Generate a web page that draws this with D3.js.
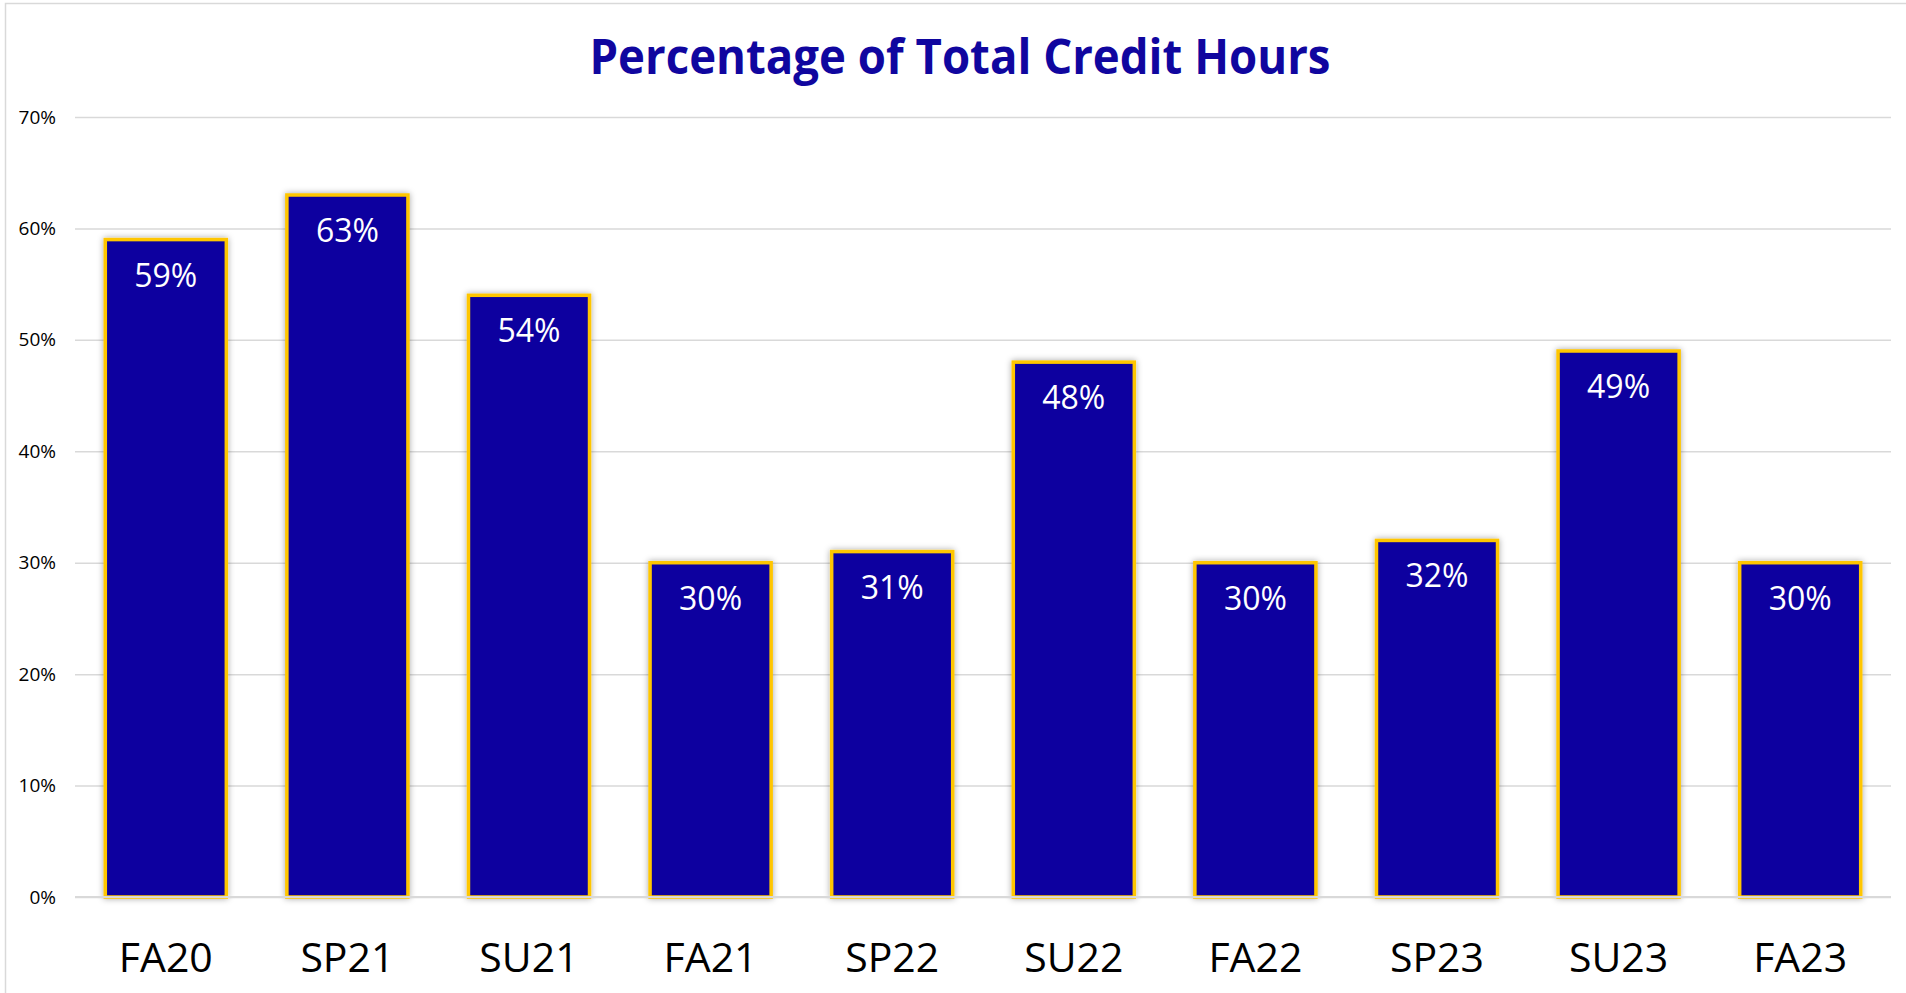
<!DOCTYPE html>
<html>
<head>
<meta charset="utf-8">
<script src="https://cdn.jsdelivr.net/npm/d3@7"></script>
<style>
  html, body { margin: 0; padding: 0; background: #fff; }
  svg { display: block; }
</style>
</head>
<body>
<svg id="chart"></svg>
<script>
// Data
const terms = ["FA20", "SP21", "SU21", "FA21", "SP22", "SU22", "FA22", "SP23", "SU23", "FA23"];
const shares = [59, 63, 54, 30, 31, 48, 30, 32, 49, 30];
const yTicks = [0, 10, 20, 30, 40, 50, 60, 70];

const W = 1906, H = 993;
const margin = { top: 117, right: 15, bottom: 96, left: 75 };

const svg = d3.select("#chart")
  .attr("width", W)
  .attr("height", H);

//Chart border
svg.append("rect")
  .attr("x", 5.5).attr("y", 3.5)
  .attr("width", W + 10).attr("height", H + 10)
  .attr("fill", "#fff")
  .attr("stroke", "#d9d9d9")
  .attr("stroke-width", 1.5);

//Bar shadow
const defs = svg.append("defs");
const shadow = defs.append("filter")
  .attr("id", "barShadow")
  .attr("x", "-20%").attr("y", "-5%")
  .attr("width", "140%").attr("height", "110%");
shadow.append("feDropShadow")
  .attr("dx", 0).attr("dy", 0)
  .attr("stdDeviation", 3)
  .attr("flood-color", "#000")
  .attr("flood-opacity", 0.35);

const x = d3.scaleBand()
  .domain(terms)
  .range([margin.left, W - margin.right])
  .paddingInner(1 / 3)
  .paddingOuter(1 / 6);

const y = d3.scaleLinear()
  .domain([0, 70])
  .range([H - margin.bottom, margin.top]);

//Title
svg.append("text")
  .attr("x", 960)
  .attr("y", 74)
  .attr("text-anchor", "middle")
  .attr("font-family", "'Open Sans', sans-serif")
  .attr("font-weight", 700)
  .attr("font-size", 48)
  .attr("textLength", 741)
  .attr("lengthAdjust", "spacingAndGlyphs")
  .attr("fill", "#10069F")
  .text("Percentage of Total Credit Hours");

//Gridlines + y labels
const yAxis = d3.axisLeft(y)
  .tickValues(yTicks)
  .tickSize(-(W - margin.right - margin.left))
  .tickPadding(19)
  .tickFormat(d => d + "%");

const gy = svg.append("g")
  .attr("transform", `translate(${margin.left},0)`)
  .call(yAxis);
gy.select(".domain").remove();
gy.selectAll(".tick line")
  .attr("stroke", "#d9d9d9")
  .attr("stroke-width", 1.5);
gy.selectAll(".tick text")
  .attr("font-family", "'Open Sans', sans-serif")
  .attr("font-size", 19)
  .attr("fill", "#000");

//Bars
const bars = svg.append("g").attr("id", "bars");
bars.selectAll("rect")
  .data(shares)
  .join("rect")
  .attr("x", (d, i) => x(terms[i]))
  .attr("y", d => y(d))
  .attr("width", x.bandwidth())
  .attr("height", d => y(0) - y(d))
  .attr("fill", "#10069F")
  .attr("stroke", "#FFC600")
  .attr("stroke-width", 3.5)
  .attr("filter", "url(#barShadow)");

//Baseline on top of bars
svg.append("line")
  .attr("x1", margin.left).attr("x2", W - margin.right)
  .attr("y1", y(0)).attr("y2", y(0))
  .attr("stroke", "#d9d9d9")
  .attr("stroke-width", 2);

//Data labels
bars.selectAll("text")
  .data(shares)
  .join("text")
  .attr("x", (d, i) => x(terms[i]) + x.bandwidth() / 2)
  .attr("y", d => y(d) + 47)
  .attr("text-anchor", "middle")
  .attr("font-family", "'Open Sans', sans-serif")
  .attr("font-size", 32)
  .attr("fill", "#fff")
  .text(d => d + "%");

//X labels
svg.append("g")
  .selectAll("text")
  .data(terms)
  .join("text")
  .attr("x", d => x(d) + x.bandwidth() / 2)
  .attr("y", 972)
  .attr("text-anchor", "middle")
  .attr("font-family", "'Open Sans', sans-serif")
  .attr("font-size", 41)
  .attr("fill", "#000")
  .text(d => d);
</script>
</body>
</html>
